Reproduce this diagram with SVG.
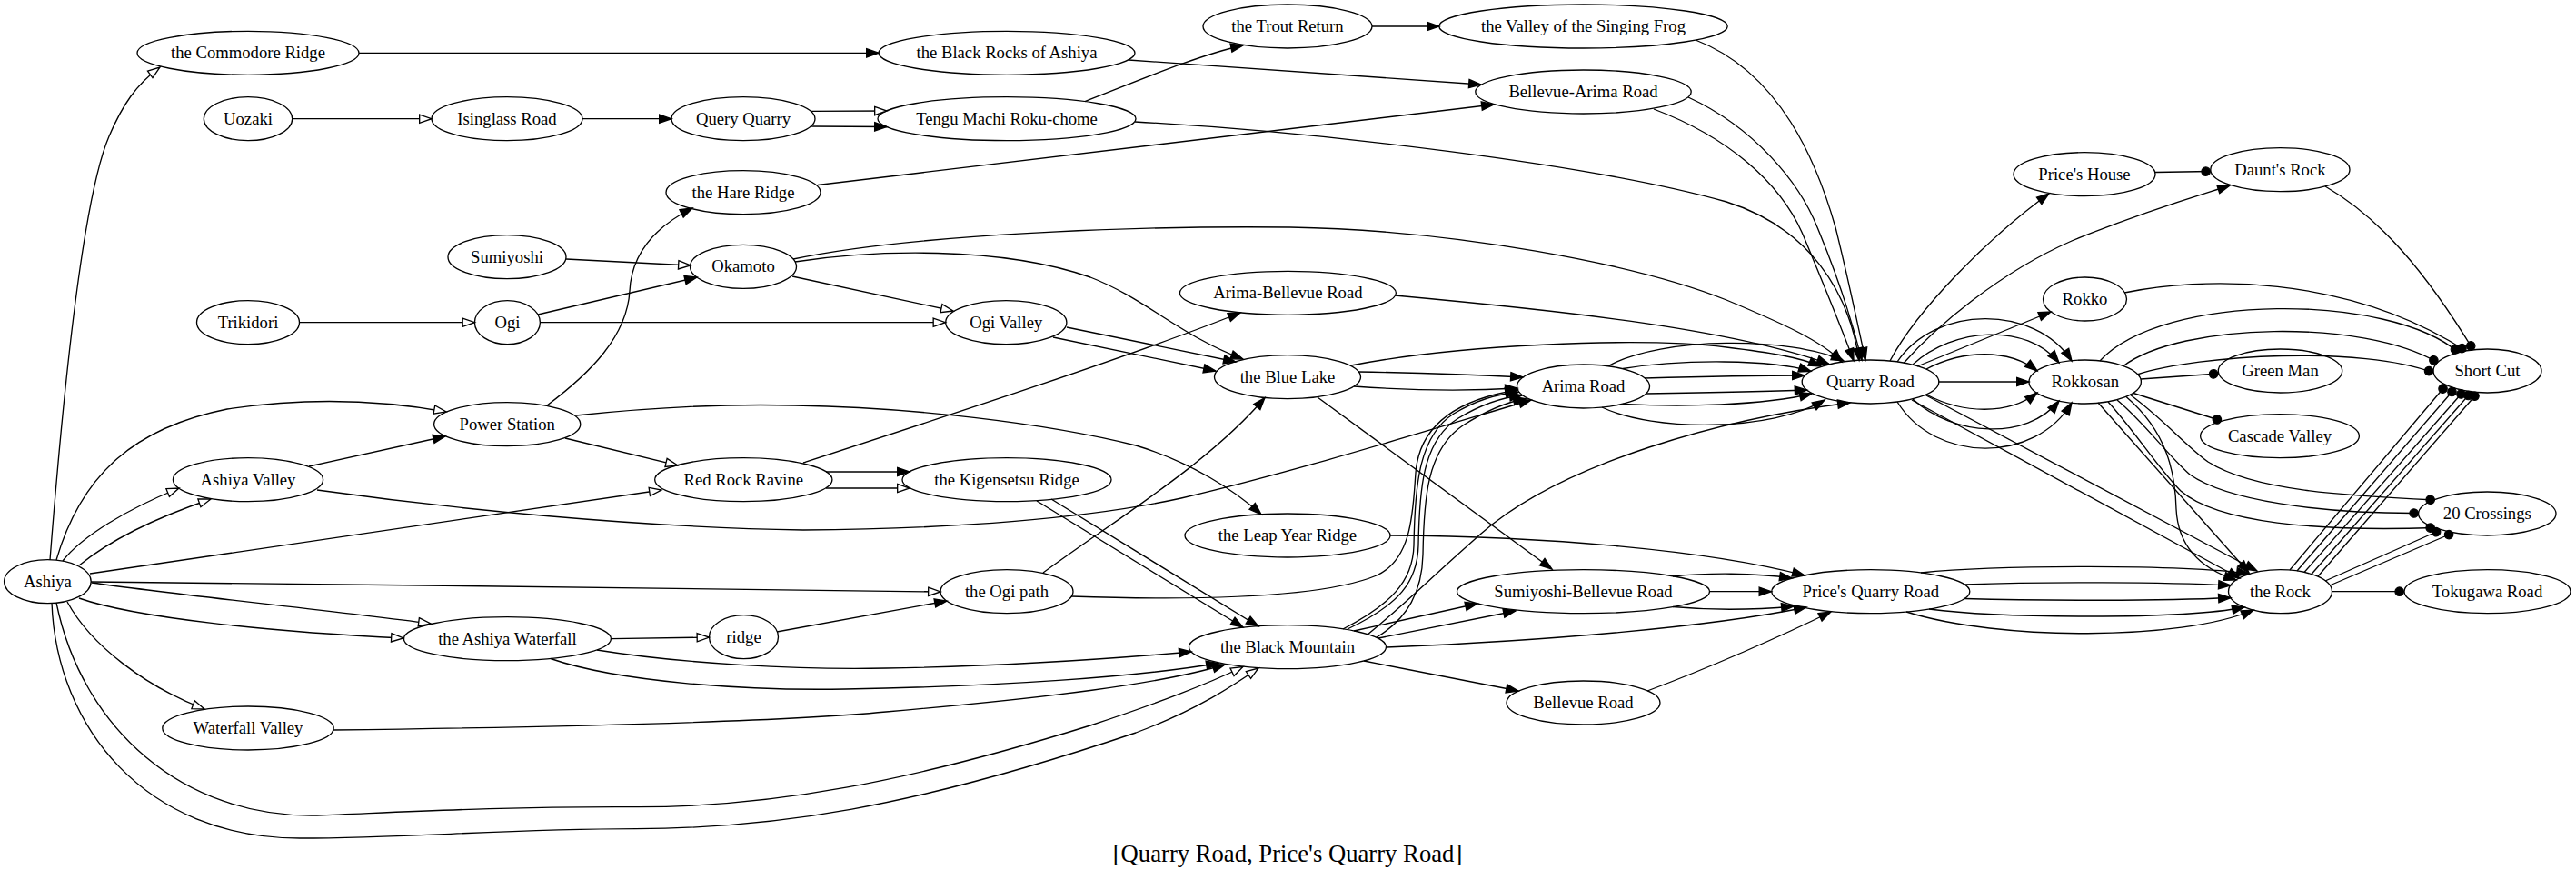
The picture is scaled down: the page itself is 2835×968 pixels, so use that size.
<svg xmlns="http://www.w3.org/2000/svg" width="2835" height="968" viewBox="0 0 2835 968">
<style>
.e{fill:none;stroke:#000;stroke-width:1.33}
.f{marker-end:url(#fa)}
.o{marker-end:url(#oa)}
.d{marker-end:url(#dt)}
.n ellipse{fill:#fff;stroke:#000;stroke-width:1.33}
.n text{font-family:"Liberation Serif","Times New Roman",serif;font-size:18.67px;text-anchor:middle;fill:#000}
.t{font-family:"Liberation Serif","Times New Roman",serif;font-size:26.67px;text-anchor:middle;fill:#000}
</style>
<defs>
<marker id="fa" markerUnits="userSpaceOnUse" markerWidth="14" markerHeight="10" refX="13.33" refY="4.67" orient="auto" overflow="visible"><path d="M0,0L13.33,4.67L0,9.33z" fill="#000" stroke="#000" stroke-width="1.33"/></marker>
<marker id="oa" markerUnits="userSpaceOnUse" markerWidth="14" markerHeight="10" refX="13.33" refY="4.67" orient="auto" overflow="visible"><path d="M0,0L13.33,4.67L0,9.33z" fill="#fff" stroke="#000" stroke-width="1.33"/></marker>
<marker id="dt" markerUnits="userSpaceOnUse" markerWidth="11" markerHeight="11" refX="10.67" refY="5.33" orient="auto" overflow="visible"><circle cx="5.33" cy="5.33" r="4.67" fill="#000" stroke="#000" stroke-width="1.33"/></marker>
</defs>
<rect x="0" y="0" width="2835" height="968" fill="#fff"/>

<g id="nodes">
<g id="n-ashiya" class="n"><ellipse cx="52.4" cy="639.7" rx="47.8" ry="24"/><text x="52.4" y="645.7">Ashiya</text></g>
<g id="n-commodore" class="n"><ellipse cx="273" cy="58.3" rx="122" ry="24"/><text x="273" y="64.3">the Commodore Ridge</text></g>
<g id="n-uozaki" class="n"><ellipse cx="273" cy="130.7" rx="48.7" ry="24"/><text x="273" y="136.7">Uozaki</text></g>
<g id="n-trikidori" class="n"><ellipse cx="273" cy="354.7" rx="56.5" ry="24"/><text x="273" y="360.7">Trikidori</text></g>
<g id="n-ashiyavalley" class="n"><ellipse cx="273" cy="527.7" rx="82.6" ry="24"/><text x="273" y="533.7">Ashiya Valley</text></g>
<g id="n-waterfallvalley" class="n"><ellipse cx="273" cy="801" rx="94.2" ry="24"/><text x="273" y="807">Waterfall Valley</text></g>
<g id="n-isinglass" class="n"><ellipse cx="558" cy="130.7" rx="83" ry="24"/><text x="558" y="136.7">Isinglass Road</text></g>
<g id="n-sumiyoshi" class="n"><ellipse cx="558" cy="282.7" rx="65" ry="24"/><text x="558" y="288.7">Sumiyoshi</text></g>
<g id="n-ogi" class="n"><ellipse cx="558.4" cy="354.7" rx="36" ry="24"/><text x="558.4" y="360.7">Ogi</text></g>
<g id="n-powerstation" class="n"><ellipse cx="558.2" cy="466.7" rx="80.6" ry="24"/><text x="558.2" y="472.7">Power Station</text></g>
<g id="n-ashiyawaterfall" class="n"><ellipse cx="558.4" cy="702.7" rx="114" ry="24"/><text x="558.4" y="708.7">the Ashiya Waterfall</text></g>
<g id="n-queryquarry" class="n"><ellipse cx="818" cy="130.7" rx="79" ry="24"/><text x="818" y="136.7">Query Quarry</text></g>
<g id="n-hareridge" class="n"><ellipse cx="818" cy="211.7" rx="85" ry="24"/><text x="818" y="217.7">the Hare Ridge</text></g>
<g id="n-okamoto" class="n"><ellipse cx="818" cy="293.3" rx="58.5" ry="24"/><text x="818" y="299.3">Okamoto</text></g>
<g id="n-redrock" class="n"><ellipse cx="818.3" cy="527.7" rx="97.6" ry="24"/><text x="818.3" y="533.7">Red Rock Ravine</text></g>
<g id="n-ridge" class="n"><ellipse cx="818.5" cy="700.7" rx="38" ry="24"/><text x="818.5" y="706.7">ridge</text></g>
<g id="n-blackrocks" class="n"><ellipse cx="1108" cy="58.3" rx="141" ry="24"/><text x="1108" y="64.3">the Black Rocks of Ashiya</text></g>
<g id="n-tengu" class="n"><ellipse cx="1108" cy="130.7" rx="142" ry="24"/><text x="1108" y="136.7">Tengu Machi Roku-chome</text></g>
<g id="n-ogivalley" class="n"><ellipse cx="1107.3" cy="354.7" rx="66.6" ry="24"/><text x="1107.3" y="360.7">Ogi Valley</text></g>
<g id="n-kigensetsu" class="n"><ellipse cx="1108" cy="527.7" rx="115" ry="24"/><text x="1108" y="533.7">the Kigensetsu Ridge</text></g>
<g id="n-ogipath" class="n"><ellipse cx="1108" cy="650.7" rx="73" ry="24"/><text x="1108" y="656.7">the Ogi path</text></g>
<g id="n-trout" class="n"><ellipse cx="1417" cy="29" rx="93" ry="24"/><text x="1417" y="35">the Trout Return</text></g>
<g id="n-arimabellevue" class="n"><ellipse cx="1417.4" cy="322.3" rx="119" ry="24"/><text x="1417.4" y="328.3">Arima-Bellevue Road</text></g>
<g id="n-bluelake" class="n"><ellipse cx="1417" cy="414.7" rx="80.5" ry="24"/><text x="1417" y="420.7">the Blue Lake</text></g>
<g id="n-leapyear" class="n"><ellipse cx="1417" cy="589" rx="113" ry="24"/><text x="1417" y="595">the Leap Year Ridge</text></g>
<g id="n-blackmountain" class="n"><ellipse cx="1417" cy="711.7" rx="108.5" ry="24"/><text x="1417" y="717.7">the Black Mountain</text></g>
<g id="n-frog" class="n"><ellipse cx="1742.5" cy="29" rx="158.7" ry="24"/><text x="1742.5" y="35">the Valley of the Singing Frog</text></g>
<g id="n-bellevuearima" class="n"><ellipse cx="1742.5" cy="101" rx="118.7" ry="24"/><text x="1742.5" y="107">Bellevue-Arima Road</text></g>
<g id="n-arima" class="n"><ellipse cx="1742.5" cy="425" rx="73" ry="24"/><text x="1742.5" y="431">Arima Road</text></g>
<g id="n-sumiyoshibellevue" class="n"><ellipse cx="1742.5" cy="650.7" rx="139" ry="24"/><text x="1742.5" y="656.7">Sumiyoshi-Bellevue Road</text></g>
<g id="n-bellevue" class="n"><ellipse cx="1742.5" cy="773" rx="84.5" ry="24"/><text x="1742.5" y="779">Bellevue Road</text></g>
<g id="n-quarry" class="n"><ellipse cx="2058.5" cy="420" rx="75.3" ry="24"/><text x="2058.5" y="426">Quarry Road</text></g>
<g id="n-pricesquarry" class="n"><ellipse cx="2058.8" cy="650.7" rx="109" ry="24"/><text x="2058.8" y="656.7">Price's Quarry Road</text></g>
<g id="n-priceshouse" class="n"><ellipse cx="2294" cy="191.7" rx="78" ry="24"/><text x="2294" y="197.7">Price's House</text></g>
<g id="n-rokko" class="n"><ellipse cx="2294.5" cy="329" rx="46" ry="24"/><text x="2294.5" y="335">Rokko</text></g>
<g id="n-rokkosan" class="n"><ellipse cx="2294.7" cy="420" rx="61.7" ry="24"/><text x="2294.7" y="426">Rokkosan</text></g>
<g id="n-daunts" class="n"><ellipse cx="2509.4" cy="186.7" rx="76.6" ry="24"/><text x="2509.4" y="192.7">Daunt's Rock</text></g>
<g id="n-greenman" class="n"><ellipse cx="2509.5" cy="408" rx="68.2" ry="24"/><text x="2509.5" y="414">Green Man</text></g>
<g id="n-cascade" class="n"><ellipse cx="2509" cy="479.7" rx="87.4" ry="24"/><text x="2509" y="485.7">Cascade Valley</text></g>
<g id="n-rock" class="n"><ellipse cx="2509.5" cy="650.7" rx="57" ry="24"/><text x="2509.5" y="656.7">the Rock</text></g>
<g id="n-shortcut" class="n"><ellipse cx="2737.5" cy="408" rx="59.5" ry="24"/><text x="2737.5" y="414">Short Cut</text></g>
<g id="n-20crossings" class="n"><ellipse cx="2737.3" cy="565" rx="75.7" ry="24"/><text x="2737.3" y="571">20 Crossings</text></g>
<g id="n-tokugawa" class="n"><ellipse cx="2737.5" cy="650.7" rx="91.5" ry="24"/><text x="2737.5" y="656.7">Tokugawa Road</text></g>
</g>

<g id="edges">
<path class="e o" d="M55,616 C68,450 90,220 120,150 C135,115 150,93 176,74"/>
<path class="e o" d="M62,616 C90,520 150,470 250,450 C350,435 430,442 491,453"/>
<path class="e o" d="M69,617 C90,590 140,560 197,537"/>
<path class="e o" d="M87,622 C120,595 170,570 232,549"/>
<path class="e o" d="M99,631 L728,539"/>
<path class="e o" d="M100,640 C400,643 800,648 1035,651"/>
<path class="e o" d="M101,641 C200,655 350,670 474,686"/>
<path class="e o" d="M87,658 C150,680 300,695 444,702"/>
<path class="e o" d="M74,662 C100,710 160,755 225,780"/>
<path class="e o" d="M62,663 C90,800 200,900 349,897 C450,893 550,887 700,887.7 C850,888 1000,860 1200,798 C1285,770 1338,748 1368,733.5"/>
<path class="e o" d="M57,663 C62,800 160,922 330,922 C450,922 550,912 700,911.7 C850,911 1000,890 1250,806 C1320,780 1360,752 1385,735"/>
<path class="e f" d="M340,513 L490,480"/>
<path class="e f" d="M349,539 C500,560 700,580 884,583 C1050,582 1200,570 1300,548 C1420,520 1550,480 1685,440"/>
<path class="e f" d="M602,446 C650,410 690,370 693,320 C695,280 720,250 762,229"/>
<path class="e o" d="M622,482 L746,512"/>
<path class="e f" d="M634,457 C720,448 800,444 875,446 C1000,448 1150,465 1250,490 C1310,508 1360,540 1388,566"/>
<path class="e o" d="M329.5,354.7 L522.5,354.7"/>
<path class="e o" d="M623,285 L760,292"/>
<path class="e f" d="M592,346 L767,305"/>
<path class="e o" d="M594.5,354.7 L1040.5,354.7"/>
<path class="e o" d="M872,304 L1049,342"/>
<path class="e f" d="M875,288 C960,275 1100,270 1200,305 C1260,328 1300,370 1368,395"/>
<path class="e f" d="M1174,360 L1360,398"/>
<path class="e f" d="M1159,371 L1338,408"/>
<path class="e f" d="M884,509 C1050,455 1250,390 1365,344"/>
<path class="e f" d="M909,519 L1001,519"/>
<path class="e o" d="M909,537 L1001,537"/>
<path class="e f" d="M1141,551 L1368,690"/>
<path class="e f" d="M1157,549 L1385,689"/>
<path class="e f" d="M1148,630 C1230,570 1330,510 1392,437.5"/>
<path class="e f" d="M1179,656 C1300,660 1450,660 1515,633 C1555,615 1555,560 1558,520 C1562,470 1600,440 1670,429"/>
<path class="e f" d="M1478,692 C1530,665 1555,640 1556,600 C1557,540 1560,480 1600,455 C1625,440 1650,433 1671,431.5"/>
<path class="e f" d="M1483,692 C1540,665 1560,640 1561,600 C1562,540 1565,485 1605,460 C1630,445 1655,437 1675,435"/>
<path class="e f" d="M1515,701 C1550,680 1565,650 1566,610 C1567,550 1570,495 1610,468 C1635,452 1660,442 1679,438.5"/>
<path class="e f" d="M1505,698 C1540,670 1570,640 1630,587 C1720,508 1900,460 2036,443"/>
<path class="e f" d="M1490,694 L1626,664"/>
<path class="e f" d="M1517,702 L1668,672"/>
<path class="e f" d="M1526,712 C1700,705 1880,690 1988,668"/>
<path class="e f" d="M1501,727 L1671,760"/>
<path class="e f" d="M1841,634 C1880,630 1930,630 1972,636"/>
<path class="e f" d="M1881.5,650.7 L1949.5,650.7"/>
<path class="e f" d="M1841,667.5 C1880,671 1930,671 1974,667"/>
<path class="e f" d="M1813,760 C1880,735 1960,700 2015,673"/>
<path class="e f" d="M1530,589 C1700,590 1880,605 1986,633"/>
<path class="e f" d="M1450,437 L1708,626"/>
<path class="e f" d="M1495,409 C1560,410 1620,412 1676,415"/>
<path class="e f" d="M1490,425 C1560,430 1620,430 1670,427"/>
<path class="e f" d="M1487,402 C1600,380 1800,370 1900,382 C1950,388 1980,393 2004,403"/>
<path class="e f" d="M1770,402.5 C1830,370 1970,370 2029,397"/>
<path class="e f" d="M1786,405.5 C1850,395 1950,395 1993,408.5"/>
<path class="e f" d="M1810,416 C1880,414 1940,413 1986,413"/>
<path class="e f" d="M1811,433 C1880,432 1940,431 1988.7,429"/>
<path class="e f" d="M1786,444.3 C1850,448 1940,446 1994,433"/>
<path class="e f" d="M1763,448 C1820,475 1950,475 2008,440"/>
<path class="e f" d="M1535,325 C1700,340 1900,360 2013,400.5"/>
<path class="e f" d="M873,285 C1000,258 1250,248 1420,250 C1600,253 1800,290 1900,330 C1960,355 2005,375 2027,398"/>
<path class="e f" d="M1249,134 C1450,145 1750,180 1900,222 C1990,250 2035,320 2046,396.5"/>
<path class="e f" d="M1866,44 C1960,80 2000,180 2020,250 C2035,310 2045,360 2053,396"/>
<path class="e f" d="M1858,107 C1930,140 1980,200 2000,250 C2025,310 2040,360 2049,396"/>
<path class="e f" d="M1820,120 C1900,150 1960,200 1985,260 C2010,320 2030,370 2040,396.7"/>
<path class="e f" d="M2080,397 C2110,340 2190,260 2255,213"/>
<path class="e f" d="M2095,399.5 C2130,360 2200,300 2280,265 C2360,232 2420,215 2454,204"/>
<path class="e f" d="M2110,403 L2257,343"/>
<path class="e f" d="M2088,398 C2130,335 2240,335 2280,397"/>
<path class="e f" d="M2105,401 C2150,360 2230,355 2266,399"/>
<path class="e f" d="M2120,406 C2160,385 2210,383 2242,408"/>
<path class="e f" d="M2134,420 L2233,420"/>
<path class="e f" d="M2120,434 C2160,455 2210,457 2242,432"/>
<path class="e f" d="M2105,439 C2150,480 2230,485 2266,441"/>
<path class="e f" d="M2088,442 C2130,510 2240,510 2280,443"/>
<path class="e f" d="M2118,434 L2484,628"/>
<path class="e f" d="M2104,440 L2465,636"/>
<path class="e f" d="M2309,443 L2475,630"/>
<path class="e f" d="M2340,436.5 C2385,475 2394,520 2395,560 C2397,600 2420,625 2461,638"/>
<path class="e d" d="M2311,397 C2380,322 2630,322 2706,388"/>
<path class="e d" d="M2337,402.5 C2400,355 2600,350 2683,399"/>
<path class="e d" d="M2352,412 C2420,390 2600,380 2678,410"/>
<path class="e d" d="M2356,417 L2441.5,411"/>
<path class="e d" d="M2348,432.5 L2445,463"/>
<path class="e d" d="M2344,434 C2380,460 2405,490 2430,508 C2480,540 2580,545 2680,550"/>
<path class="e d" d="M2330,440 C2360,465 2385,500 2410,522 C2450,550 2550,565 2662,564.5"/>
<path class="e d" d="M2320,442 C2350,475 2375,515 2400,540 C2440,575 2550,585 2680,580.5"/>
<path class="e d" d="M2559,639 L2686,583"/>
<path class="e d" d="M2564,644 L2700,586"/>
<path class="e d" d="M2520,627 L2692,423.5"/>
<path class="e d" d="M2528,628 L2702,427"/>
<path class="e d" d="M2536,629.5 L2712,429.5"/>
<path class="e d" d="M2544,631.5 L2720,431"/>
<path class="e d" d="M2551,634 L2727,431.7"/>
<path class="e d" d="M2559,205 C2620,240 2670,300 2722,385"/>
<path class="e d" d="M2338,322 C2420,305 2580,300 2714,386"/>
<path class="e d" d="M2372,189.5 L2433,188.5"/>
<path class="e d" d="M2566.5,650.7 L2646,650.7"/>
<path class="e f" d="M2114,630 C2200,621 2400,621 2475,631"/>
<path class="e f" d="M2162,643 C2250,640 2380,640 2455,644"/>
<path class="e f" d="M2162,658.5 C2250,661 2380,661 2455,657.5"/>
<path class="e f" d="M2123,670 C2200,680 2400,682 2470,668"/>
<path class="e f" d="M2098,673 C2200,705 2400,705 2480,671"/>
<path class="e o" d="M321.7,130.7 L475,130.7"/>
<path class="e f" d="M641,130.7 L739,130.7"/>
<path class="e o" d="M892,122.3 L976,122"/>
<path class="e f" d="M892,139 L976,139.5"/>
<path class="e f" d="M395,58.3 L967,58.3"/>
<path class="e f" d="M1194,111.6 C1250,90 1320,60 1368,50"/>
<path class="e f" d="M1510,29 L1584,29"/>
<path class="e f" d="M900,203.5 L1644,115"/>
<path class="e f" d="M1242,66 L1630,93"/>
<path class="e o" d="M672.4,702.7 L780.5,701"/>
<path class="e f" d="M657,715 C750,730 880,737 975,735 C1100,733 1230,724 1311,717"/>
<path class="e f" d="M606,724.5 C680,750 820,760 930,758 C1100,755 1250,745 1341,729.5"/>
<path class="e f" d="M367,803 C600,800 850,795 975,783 C1150,768 1280,752 1348,731"/>
<path class="e f" d="M855,695 L1042,661"/>
</g>

<text class="t" x="1417" y="948">[Quarry Road, Price's Quarry Road]</text>
</svg>
